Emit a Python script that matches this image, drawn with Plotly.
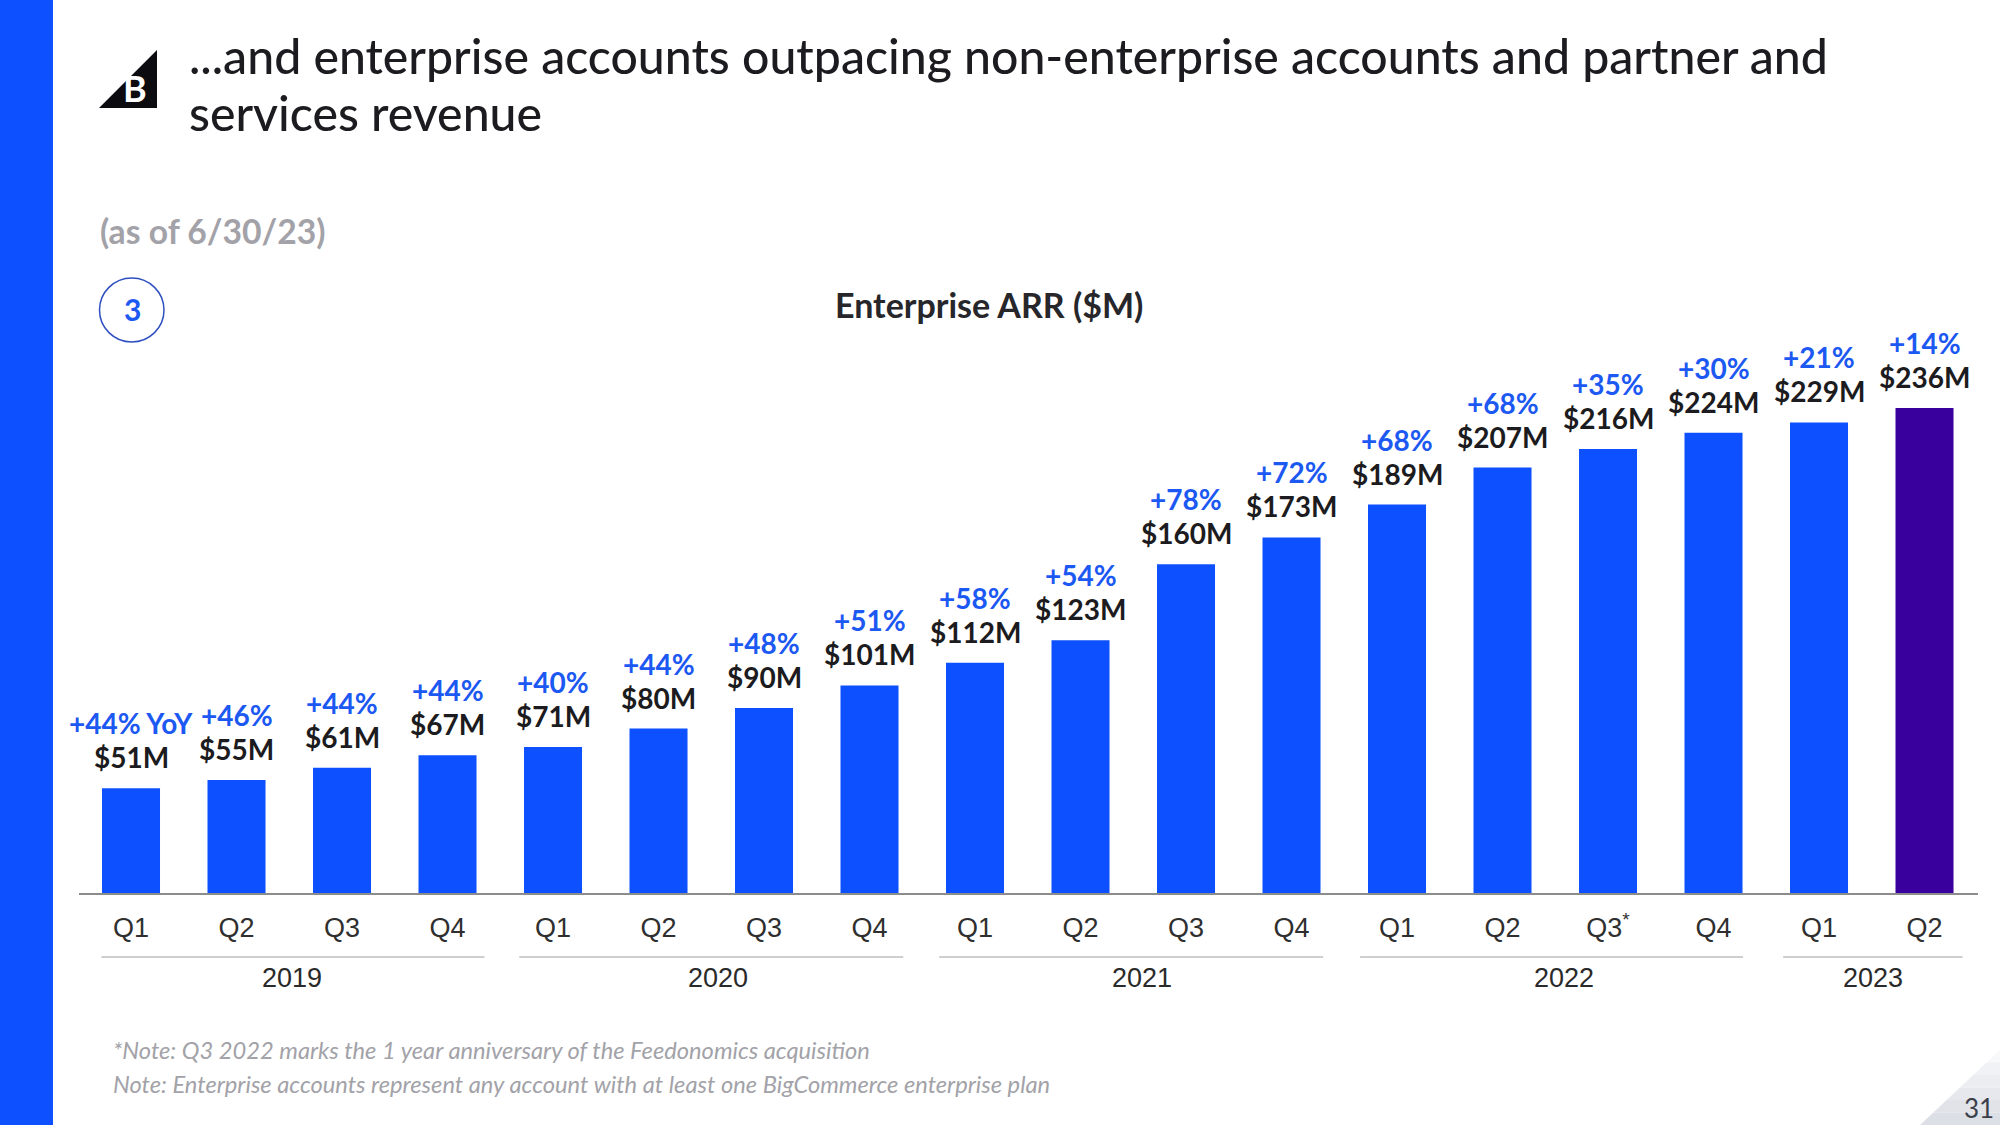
import plotly.graph_objects as go

W, H = 2000, 1125
quarters = ["Q1","Q2","Q3","Q4","Q1","Q2","Q3","Q4","Q1","Q2","Q3","Q4","Q1","Q2","Q3<sup>*</sup>","Q4","Q1","Q2"]
arr_values = [51,55,61,67,71,80,90,101,112,123,160,173,189,207,216,224,229,236]
yoy_labels = ["+44% YoY","+46%","+44%","+44%","+40%","+44%","+48%","+51%","+58%","+54%","+78%","+72%","+68%","+68%","+35%","+30%","+21%","+14%"]
years = ["2019","2020","2021","2022","2023"]
year_spans = [(0,3),(4,7),(8,11),(12,15),(16,17)]
year_label_nudge = [0.026,0.062,0.086,0.086,0.014]
rule_left = [0.28,0.32,0.34,0.35,0.34]
rule_right = [0.35,0.32,0.30,0.28,0.36]

BLUE = "#0D50FF"
PURPLE = "#3A009E"
LABEL_BLUE = "#1C58F2"
DARK = "#1B1B20"
GREY = "#A2A2A8"
TXT = "Lato"
TICK = "Liberation Sans"

px = lambda x: x / W
py = lambda y: 1 - y / H
idx = list(range(len(arr_values)))
colors = [BLUE] * (len(arr_values) - 1) + [PURPLE]

fig = go.Figure(go.Bar(x=idx, y=arr_values, marker=dict(color=colors, line_width=0), width=0.55, hoverinfo="skip"))

annotations = []
def note(x, y, text, size, color, family=TXT, anchor="left", xref="paper", yref="paper", yshift=0, weight=None):
    f = dict(family=family, size=size, color=color)
    if weight:
        f["weight"] = weight
    annotations.append(dict(x=x, y=y, xref=xref, yref=yref, text=text, showarrow=False, xanchor=anchor,
                            yanchor="middle", yshift=yshift, font=f))

for i, v, p in zip(idx, arr_values, yoy_labels):
    note(i, v, f"<b>${v}M</b>", 28, DARK, anchor="center", xref="x", yref="y", yshift=31)
    note(i, v, f"<b>{p}</b>", 28, LABEL_BLUE, anchor="center", xref="x", yref="y", yshift=65)

shapes = []
def poly(pts, fill):
    d = "M" + " L".join(f"{px(a)},{py(b)}" for a, b in pts) + " Z"
    shapes.append(dict(type="path", path=d, xref="paper", yref="paper", fillcolor=fill, line_width=0, layer="below"))

# left band
shapes.append(dict(type="rect", xref="paper", yref="paper", x0=0, x1=px(53), y0=0, y1=1, fillcolor=BLUE, line_width=0))
# logo
poly([(99,108),(157,50),(157,108)], "#0B0B10")
note(px(135), py(88), "<b>B</b>", 36, "#FFFFFF", anchor="center")
# page corner
bands = ["#F7F8FA","#F1F2F5","#EBEDF1","#E6E8ED","#E1E3E9","#DCDFE6"]
for k, c in enumerate(bands):
    y0 = 1050 + k * 12.5
    y1 = y0 + 12.5
    poly([(2000 - (y0-1050)*80/75, y0), (2000, y0), (2000, y1), (2000 - (y1-1050)*80/75, y1)], c)
# badge
shapes.append(dict(type="circle", xref="paper", yref="paper", x0=px(99.5), x1=px(164), y0=py(342), y1=py(278),
                   line=dict(color="#2F4FC0", width=1.5), fillcolor="rgba(0,0,0,0)"))
note(px(132), py(309), "<b>3</b>", 30, LABEL_BLUE, anchor="center")

# year rules and labels
for y, (a, b), n, l, r in zip(years, year_spans, year_label_nudge, rule_left, rule_right):
    shapes.append(dict(type="line", xref="x", yref="paper", x0=a-l, x1=b+r, y0=py(957), y1=py(957),
                       line=dict(color="#CFCFCF", width=2)))
    note((a+b)/2+n, py(978), y, 27, "#2A2A2A", family=TICK, anchor="center", xref="x")

# headings
note(px(187), py(55), "...and enterprise accounts outpacing non-enterprise accounts and partner and", 48.2, DARK, weight=500)
note(px(187), py(112), "services revenue", 48.2, DARK, weight=500)
note(px(98), py(231), "<b>(as of 6/30/23)</b>", 33.7, GREY)
note(px(989), py(305), "<b>Enterprise ARR ($M)</b>", 34, "#26262B", anchor="center")
note(px(111), py(1050), "<i>*Note: Q3 2022 marks the 1 year anniversary of the Feedonomics acquisition</i>", 23.7, GREY)
note(px(111), py(1084), "<i>Note: Enterprise accounts represent any account with at least one BigCommerce enterprise plan</i>", 23.7, GREY)
note(px(1979), py(1108), "31", 26, "#3A3F4A", anchor="center")

fig.update_layout(
    width=W, height=H, margin=dict(l=0, r=0, t=0, b=0), showlegend=False,
    paper_bgcolor="white", plot_bgcolor="white", bargap=0.45,
    xaxis=dict(domain=[px(79), px(1978)], range=[-0.493, 17.507], tickmode="array", tickvals=idx, ticktext=quarters,
               showgrid=False, zeroline=False, showline=True, linecolor="#8C8C8C", linewidth=2,
               ticks="outside", ticklen=10, tickcolor="rgba(0,0,0,0)",
               tickfont=dict(family=TICK, size=27, color="#2F2F2F"), tickangle=0),
    yaxis=dict(domain=[py(893), py(250)], range=[0, 643/2.055], visible=False),
    annotations=annotations, shapes=shapes,
)
fig.write_html("out.html", config={"displayModeBar": False}, post_script="document.body.style.margin='0';")
